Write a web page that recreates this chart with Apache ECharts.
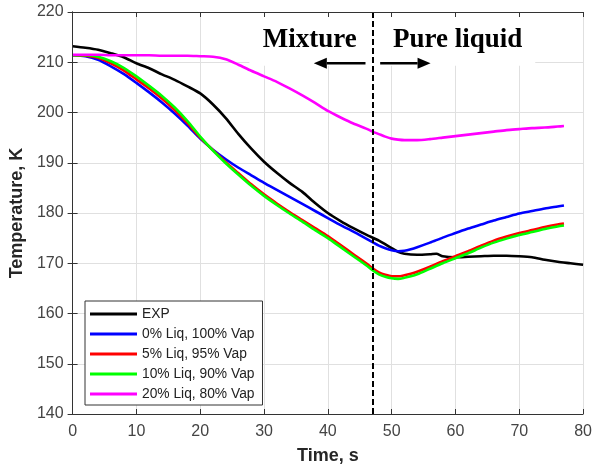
<!DOCTYPE html>
<html>
<head>
<meta charset="utf-8">
<script src="https://cdn.jsdelivr.net/npm/echarts@6/dist/echarts.min.js"></script>
<style>
  html, body { margin: 0; padding: 0; background: #fff; }
  #chart { width: 595px; height: 470px; }
</style>
</head>
<body>
<div id="chart"></div>
<script>
// Time axis shared by the four simulated cases (s)
const timeSim = [0, 2, 4, 6, 8, 10, 12, 14, 16, 18, 20, 22, 24, 26, 28, 30, 32, 34, 36, 38, 40, 42, 44, 46,
  47, 48, 49, 50, 51, 52, 53, 54, 56, 58, 60, 62, 64, 66, 68, 70, 72, 74, 76, 77];

// Simulated temperature (K) for each liquid / vapour inlet split
const liq0 = [211.4, 211.2, 210.5, 209.2, 207.7, 205.9, 204.0, 202.0, 199.8, 197.4, 194.8, 192.6, 190.7, 189.0,
  187.5, 186.0, 184.6, 183.2, 181.8, 180.4, 179.0, 177.6, 176.3, 174.9,
  174.2, 173.5, 173.0, 172.6, 172.4, 172.5, 172.8, 173.2, 174.1, 175.1, 176.0, 176.9, 177.7, 178.5, 179.2,
  179.9, 180.4, 180.9, 181.3, 181.5];
const liq5 = [211.4, 211.3, 210.9, 209.8, 208.4, 206.6, 204.8, 202.8, 200.5, 197.9, 195.0, 192.5, 190.1, 187.9,
  185.7, 183.7, 181.9, 180.2, 178.6, 177.0, 175.4, 173.6, 171.8, 170.0,
  169.0, 168.2, 167.7, 167.4, 167.4, 167.6, 167.9, 168.3, 169.3, 170.4, 171.4, 172.4, 173.5, 174.5, 175.3,
  176.0, 176.6, 177.2, 177.7, 177.9];
const liq10 = [211.4, 211.4, 211.1, 210.2, 208.9, 207.2, 205.3, 203.3, 201.0, 198.3, 195.2, 192.4, 189.9, 187.6,
  185.4, 183.4, 181.6, 179.9, 178.3, 176.6, 175.0, 173.2, 171.4, 169.6,
  168.6, 167.8, 167.3, 167.0, 166.9, 167.1, 167.4, 167.8, 168.9, 170.0, 171.0, 172.0, 173.1, 174.1, 174.9,
  175.6, 176.2, 176.8, 177.3, 177.5];
const liq20 = [211.5, 211.5, 211.5, 211.4, 211.4, 211.4, 211.4, 211.3, 211.3, 211.3, 211.2, 211.1, 210.6, 209.5,
  208.3, 207.2, 206.1, 204.8, 203.4, 201.9, 200.3, 199.0, 197.8, 196.8,
  196.2, 195.7, 195.2, 194.8, 194.6, 194.5, 194.5, 194.5, 194.7, 195.0, 195.3, 195.6, 195.9, 196.2, 196.5,
  196.7, 196.9, 197.0, 197.2, 197.3];

// Measured temperature (K)
const timeExp = [0, 2, 4, 6, 8, 10, 12, 14, 16, 18, 20, 22, 24, 26, 28, 30, 32, 34, 36, 38, 40, 42, 44, 46, 48, 50,
  51, 52, 54, 56, 57, 58, 60, 62, 64, 66, 68, 70, 72, 74, 76, 78, 80];
const expTemp = [213.2, 212.9, 212.5, 211.8, 211.0, 209.8, 208.8, 207.6, 206.5, 205.2, 203.8, 201.6, 198.9, 195.7,
  192.8, 190.2, 188.0, 186.0, 184.2, 182.0, 180.0, 178.4, 177.0, 175.7, 174.5, 173.0,
  172.3, 171.9, 171.7, 171.8, 171.9, 171.4, 171.2, 171.3, 171.4, 171.5, 171.5, 171.4, 171.2, 170.7, 170.3,
  170.0, 169.7];

const seriesNames = ['EXP', '0% Liq, 100% Vap', '5% Liq, 95% Vap', '10% Liq, 90% Vap', '20% Liq, 80% Vap'];
const seriesColors = ['#000000', '#0000ff', '#ff0000', '#00ff00', '#ff00ff'];

// Axis ticks
const xTicks = { min: 0, max: 80, interval: 10 };
const yTicks = { min: 140, max: 220, interval: 10 };

// Switch-over time between two-phase mixture and pure liquid (s)
const boundaryTime = 47.1;
const regionLabels = ['Mixture', 'Pure liquid'];

const pair = (xs, ys) => xs.map((x, i) => [x, ys[i]]);

const chart = echarts.init(document.getElementById('chart'), null, { renderer: 'canvas' });

const sansFont = 'Arial, "Liberation Sans", sans-serif';
const tickColor = '#444444';
const axisColor = '#333333';

function lineSeries(idx, data, extra) {
  return Object.assign({
    name: seriesNames[idx],
    type: 'line',
    data: data,
    showSymbol: false,
    smooth: 0.25,
    lineStyle: { color: seriesColors[idx], width: 2.6 },
    itemStyle: { color: seriesColors[idx] },
    z: 3,
    animation: false
  }, extra || {});
}

const mainX = {
  type: 'value', min: xTicks.min, max: xTicks.max, interval: xTicks.interval,
  position: 'bottom', z: 0,
  axisLine: { show: true, lineStyle: { color: axisColor, width: 1 } },
  axisTick: { show: true, inside: true, length: 5, lineStyle: { color: axisColor } },
  axisLabel: { color: tickColor, fontSize: 16, fontFamily: sansFont, margin: 10 },
  splitLine: { show: true, lineStyle: { color: '#e0e0e0', width: 1 } },
  name: 'Time, s', nameLocation: 'middle', nameGap: 33,
  nameTextStyle: { color: '#262626', fontSize: 18, fontWeight: 'bold', fontFamily: sansFont }
};
const topX = {
  type: 'value', min: xTicks.min, max: xTicks.max, interval: xTicks.interval,
  position: 'top', z: 5,
  axisLine: { show: true, lineStyle: { color: axisColor, width: 1 } },
  axisTick: { show: true, inside: true, length: 5, lineStyle: { color: axisColor } },
  axisLabel: { show: false },
  splitLine: { show: false }
};
const mainY = {
  type: 'value', min: yTicks.min, max: yTicks.max, interval: yTicks.interval,
  position: 'left', z: 0,
  axisLine: { show: true, lineStyle: { color: axisColor, width: 1 } },
  axisTick: { show: true, inside: true, length: 5, lineStyle: { color: axisColor } },
  axisLabel: { color: tickColor, fontSize: 16, fontFamily: sansFont, margin: 9 },
  splitLine: { show: true, lineStyle: { color: '#e0e0e0', width: 1 } },
  name: 'Temperature, K', nameLocation: 'middle', nameGap: 42, nameRotate: 90,
  nameTextStyle: { color: '#262626', fontSize: 18, fontWeight: 'bold', fontFamily: sansFont }
};
const rightY = {
  type: 'value', min: yTicks.min, max: yTicks.max, interval: yTicks.interval,
  position: 'right', z: 5,
  axisLine: { show: true, lineStyle: { color: axisColor, width: 1 } },
  axisTick: { show: true, inside: true, length: 5, lineStyle: { color: axisColor } },
  axisLabel: { show: false },
  splitLine: { show: false }
};

chart.setOption({
  animation: false,
  backgroundColor: '#ffffff',
  grid: { left: 72, right: 8, top: 12, bottom: 54, containLabel: false },
  xAxis: [mainX, topX],
  yAxis: [mainY, rightY],
  legend: {
    orient: 'vertical',
    left: 85, top: 301,
    data: seriesNames,
    icon: 'rect',
    itemWidth: 47, itemHeight: 3,
    itemGap: 6, itemTextGap: 3,
    padding: [6, 8, 4, 5],
    backgroundColor: '#ffffff',
    borderColor: '#333333', borderWidth: 1,
    textStyle: { color: '#222222', fontSize: 13.8, lineHeight: 14, fontFamily: sansFont },
    z: 6
  },
  series: [
    lineSeries(0, pair(timeExp, expTemp), {
      markLine: {
        silent: true,
        symbol: 'none',
        label: { show: false },
        lineStyle: { color: '#000000', width: 2, type: [6, 3] },
        data: [{ xAxis: boundaryTime }],
        animation: false
      }
    }),
    lineSeries(1, pair(timeSim, liq0)),
    lineSeries(2, pair(timeSim, liq5)),
    lineSeries(3, pair(timeSim, liq10)),
    lineSeries(4, pair(timeSim, liq20))
  ]
});

// Region annotation: white label panel, two captions and direction arrows
const px = (x, y) => chart.convertToPixel({ xAxisIndex: 0, yAxisIndex: 0 }, [x, y]);
const panelA = px(27.7, yTicks.max);
const panelB = px(72.5, 209.3);
const arrowY = 209.8;
const leftTail = px(45.9, arrowY), leftTip = px(37.8, arrowY);
const rightTail = px(48.2, arrowY), rightTip = px(56.1, arrowY);
const headLen = 13, headHalf = 5.5;
const mixPos = px(29.8, 214.4);
const purePos = px(50.2, 214.4);
const serif = 'bold 27px "Liberation Serif", "Times New Roman", serif';

function arrow(tail, tip) {
  const dir = Math.sign(tip[0] - tail[0]);
  const baseX = tip[0] - dir * headLen;
  return [
    { type: 'line', z: 10, shape: { x1: tail[0], y1: tail[1], x2: baseX, y2: tip[1] },
      style: { stroke: '#000', lineWidth: 2.5 } },
    { type: 'polygon', z: 10, shape: { points: [[tip[0], tip[1]], [baseX, tip[1] - headHalf], [baseX, tip[1] + headHalf]] },
      style: { fill: '#000' } }
  ];
}

chart.setOption({
  graphic: [
    { type: 'rect', z: 1, silent: true,
      shape: { x: panelA[0], y: panelA[1] + 1, width: panelB[0] - panelA[0], height: panelB[1] - panelA[1] - 1 },
      style: { fill: '#ffffff' } },
    { type: 'text', z: 10, silent: true,
      style: { text: regionLabels[0], x: mixPos[0], y: mixPos[1], font: serif, fill: '#000', align: 'left', verticalAlign: 'middle' } },
    { type: 'text', z: 10, silent: true,
      style: { text: regionLabels[1], x: purePos[0], y: purePos[1], font: serif, fill: '#000', align: 'left', verticalAlign: 'middle' } }
  ].concat(arrow(leftTail, leftTip), arrow(rightTail, rightTip))
});
</script>
</body>
</html>
